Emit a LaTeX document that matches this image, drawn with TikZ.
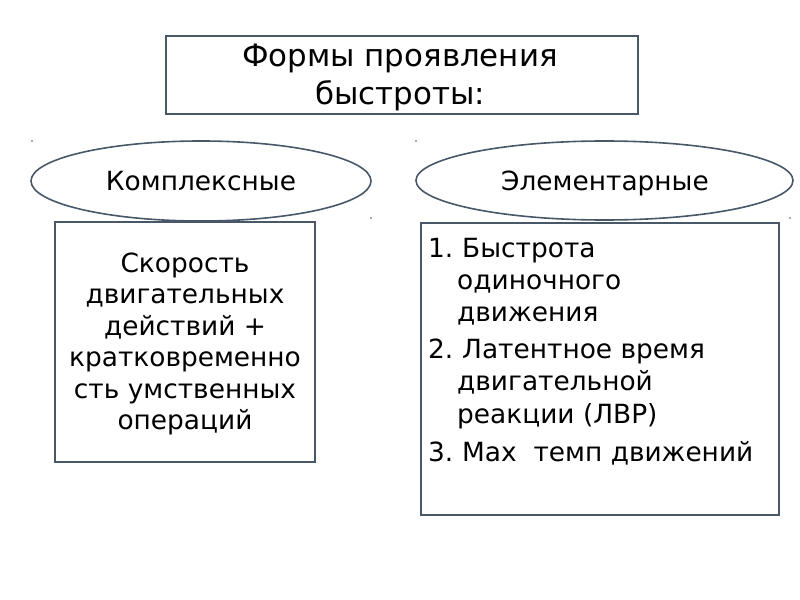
\documentclass[tikz,border=0pt]{standalone}
\usepackage{fontspec}
\setmainfont{DejaVu Sans}
\usetikzlibrary{shapes.geometric}
\definecolor{edge}{RGB}{72,88,104}
\begin{document}
\begin{tikzpicture}[x=1bp,y=-1bp,
  frame/.style={draw=edge,line width=1.6bp},
  txt/.style={font=\fontsize{26.5}{32}\selectfont,inner sep=0pt,anchor=base},
  ltxt/.style={txt,anchor=base west},
  ttl/.style={font=\fontsize{31}{38}\selectfont,inner sep=0pt,anchor=base}]
\useasboundingbox[fill=white] (0,0) rectangle (800,600);
% title
\node[frame,minimum width=472bp,minimum height=78bp,anchor=north west] (title) at (165,35) {};
\node[ttl] (t1) at (400,67) {Формы проявления};
\node[ttl] (t2) at (400,105) {быстроты:};
% ellipses
\node[frame,ellipse,minimum width=340bp,minimum height=80bp,inner sep=0pt] (kompl) at (201,181) {};
\node[txt] (kompltext) at (201,191) {Комплексные};
\node[frame,ellipse,minimum width=377bp,minimum height=79bp,inner sep=0pt] (elem) at (604.5,180.5) {};
\node[txt] (elemtext) at (605,191) {Элементарные};
% left box
\node[frame,minimum width=260bp,minimum height=240bp,anchor=north west] (lbox) at (54,221) {};
\node[txt] (l1) at (185,272) {Скорость};
\node[txt] (l2) at (185,303.5) {двигательных};
\node[txt] (l3) at (185,335) {действий +};
\node[txt] (l4) at (185,366.5) {кратковременно};
\node[txt] (l5) at (185,398) {сть умственных};
\node[txt] (l6) at (185,429.5) {операций};
% right box
\node[frame,minimum width=358bp,minimum height=292bp,anchor=north west] (rbox) at (420,222) {};
\node[ltxt] (r1) at (428,257) {1.};
\node[ltxt] (r1b) at (462,257) {Быстрота};
\node[ltxt] (r2) at (457,289) {одиночного};
\node[ltxt] (r3) at (457,321) {движения};
\node[ltxt] (r4) at (428,358) {2.};
\node[ltxt] (r4b) at (462,358) {Латентное время};
\node[ltxt] (r5) at (457,390.5) {двигательной};
\node[ltxt] (r6) at (457,423) {реакции (ЛВР)};
\node[ltxt] (r7) at (428,461) {3.};
\node[ltxt] (r7b) at (462,461) {Мах\ \ темп движений};
% specks
\foreach \p [count=\i] in {(32,141),(371,218),(416,141),(790,218)}
  \fill[edge] \p circle (0.8bp);
\end{tikzpicture}
\end{document}
